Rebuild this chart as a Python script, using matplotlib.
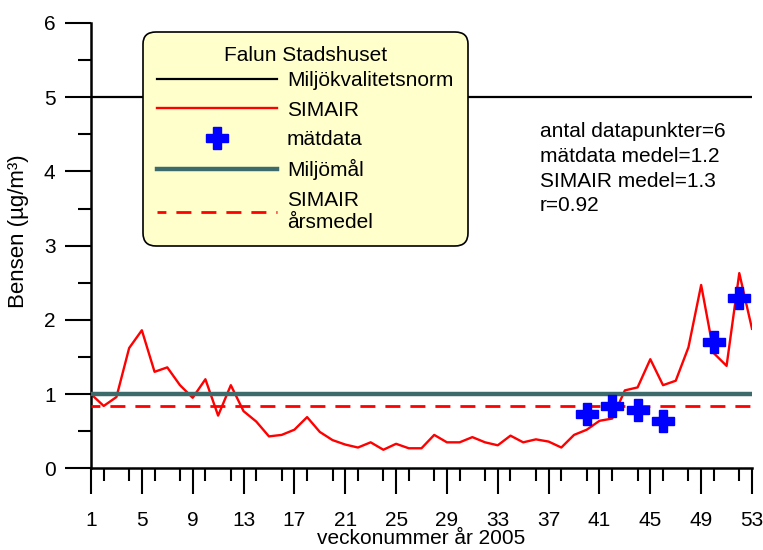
import numpy as np
import matplotlib.pyplot as plt
from matplotlib.ticker import MultipleLocator

plt.rcParams['font.family'] = ['Liberation Sans', 'DejaVu Sans']

# modelled weekly benzene (SIMAIR), week 1..53 of 2005
weeks = np.arange(1, 54)
simair = [1.00, 0.84, 0.96, 1.62, 1.86, 1.30, 1.36, 1.12, 0.95, 1.20,
          0.71, 1.12, 0.77, 0.63, 0.43, 0.45, 0.52, 0.69, 0.49, 0.38,
          0.32, 0.28, 0.35, 0.25, 0.33, 0.27, 0.27, 0.45, 0.35, 0.35,
          0.42, 0.35, 0.31, 0.44, 0.35, 0.39, 0.36, 0.28, 0.45, 0.52,
          0.64, 0.67, 1.05, 1.09, 1.47, 1.12, 1.18, 1.63, 2.47, 1.55,
          1.38, 2.63, 1.88]

# measured values
meas_weeks = [40, 42, 44, 46, 50, 52]
meas_vals = [0.73, 0.84, 0.79, 0.64, 1.70, 2.29]

norm_level = 5.0      # miljökvalitetsnorm
goal_level = 1.0      # miljömål
simair_annual = 0.84  # SIMAIR årsmedel

stats_lines = ["antal datapunkter=6", "mätdata medel=1.2",
               "SIMAIR medel=1.3", "r=0.92"]

fig = plt.figure(figsize=(7.63, 5.5), dpi=100)
ax = fig.add_axes([91 / 763, 1 - 468.3 / 550, 661 / 763, 445.3 / 550])

teal = '#3D6B6B'
l_norm = ax.axhline(norm_level, color='black', lw=1.6, zorder=2)
l_sim, = ax.plot(weeks, simair, color='red', lw=1.7, zorder=2)
l_meas, = ax.plot(meas_weeks, meas_vals, ls='none', marker='P', ms=16,
                  color='blue', mec='blue', zorder=5)
l_goal = ax.axhline(goal_level, color=teal, lw=3.2, zorder=3)
l_ann = ax.axhline(simair_annual, color='red', lw=2.0,
                   ls=(2.2, (5.4, 3.6)), zorder=3)

ax.set_xlim(1, 53)
ax.set_ylim(0, 6)
ax.xaxis.set_minor_locator(MultipleLocator(2))
ax.yaxis.set_major_locator(MultipleLocator(1))
ax.yaxis.set_minor_locator(MultipleLocator(0.5))
ax.set_xticks(np.arange(1, 54, 4))

for side in ['top', 'right']:
    ax.spines[side].set_visible(False)
for side in ['left', 'bottom']:
    ax.spines[side].set_linewidth(1.8)

ax.tick_params(which='major', length=18.5, width=1.5, labelsize=15, pad=7)
ax.tick_params(axis='x', which='major', pad=12.5)
ax.tick_params(which='minor', length=9.5, width=1.5)

ax.set_xlabel('veckonummer år 2005', fontsize=15, labelpad=-1)
ax.set_ylabel('Bensen (µg/m³)', fontsize=16)
ax.yaxis.set_label_coords(-0.094, 0.532)

ax.text(36.3, 4.035, '\n'.join(stats_lines), fontsize=15, ha='left',
        va='center', linespacing=1.375)

leg = ax.legend([l_norm, l_sim, l_meas, l_goal, l_ann],
                ['Miljökvalitetsnorm', 'SIMAIR', 'mätdata', 'Miljömål',
                 'SIMAIR\nårsmedel'],
                title='Falun Stadshuset', title_fontsize=15, fontsize=15,
                loc='upper left', bbox_to_anchor=(0.0787, 0.9805),
                borderaxespad=0, borderpad=0.68, handlelength=5.75,
                handletextpad=0.48, labelspacing=0.5, numpoints=1,
                fancybox=True, framealpha=1, facecolor='#FFFFCC',
                edgecolor='black')
# tighter gap between the title and the first entry
leg._legend_box.sep = 0.3 * 15
leg.get_frame().set_linewidth(1.2)
leg.get_frame().set_boxstyle('round', pad=0, rounding_size=0.6)
leg.set_zorder(10)

fig.savefig('out.png', dpi=100)
